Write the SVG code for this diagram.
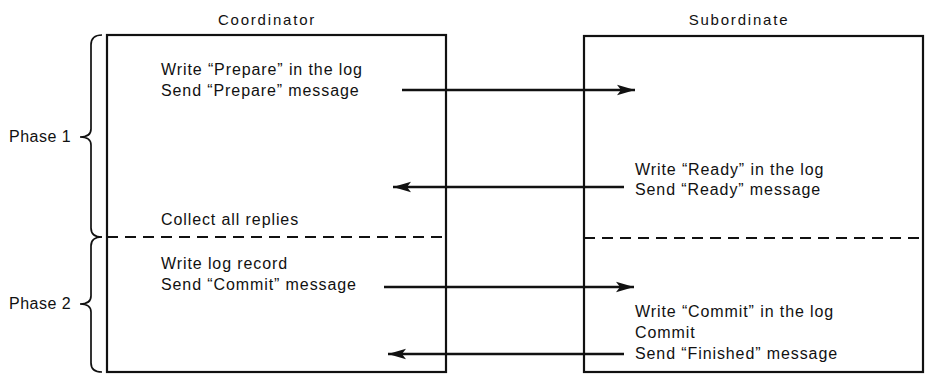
<svg xmlns="http://www.w3.org/2000/svg" width="925" height="374" viewBox="0 0 925 374">
<style>
text{font-family:"Liberation Sans",Arial,sans-serif;font-size:16px;fill:#111;letter-spacing:0.9px}
.hdr{font-size:15px;letter-spacing:1.8px}
.box{fill:none;stroke:#111;stroke-width:2.2}
.dash{fill:none;stroke:#111;stroke-width:1.8;stroke-dasharray:11 7}
.brace{fill:none;stroke:#111;stroke-width:1.7}
.arr{fill:none;stroke:#111;stroke-width:2.3;marker-end:url(#ah)}
</style>
<defs>
<marker id="ah" markerWidth="20" markerHeight="12" refX="18" refY="6" orient="auto" markerUnits="userSpaceOnUse">
<path d="M0,0.8 L18,6 L0,11.2 L4,6 Z" fill="#111"/>
</marker>
</defs>
<rect width="925" height="374" fill="#fff"/>
<g id="coordinator">
<text class="hdr" x="267" y="25" text-anchor="middle">Coordinator</text>
<rect class="box" x="107" y="35" width="339" height="337"/>
<text x="161" y="75">Write “Prepare” in the log</text>
<text x="161" y="96">Send “Prepare” message</text>
<text x="161" y="225">Collect all replies</text>
<text x="161" y="269">Write log record</text>
<text x="161" y="290">Send “Commit” message</text>
</g>
<g id="subordinate">
<text class="hdr" x="739" y="25" text-anchor="middle">Subordinate</text>
<rect class="box" x="584" y="36" width="339" height="336"/>
<text x="635" y="175">Write “Ready” in the log</text>
<text x="635" y="195">Send “Ready” message</text>
<text x="635" y="317">Write “Commit” in the log</text>
<text x="635" y="338">Commit</text>
<text x="635" y="359">Send “Finished” message</text>
</g>
<g id="phase1">
<text x="9" y="142" style="letter-spacing:0.5px">Phase 1</text>
<path class="brace" d="M102,35 Q91,35 91,45 L91,129 Q91,137 80,137 Q91,137 91,145 L91,228 Q91,237 102,237"/>
</g>
<g id="phase2">
<text x="9" y="309" style="letter-spacing:0.5px">Phase 2</text>
<path class="brace" d="M102,237 Q91,237 91,246 L91,296 Q91,304 80,304 Q91,304 91,312 L91,363 Q91,372 102,372"/>
</g>
<g id="connectors">
<line class="dash" x1="107" y1="237" x2="446" y2="237"/>
<line class="dash" x1="584" y1="238" x2="923" y2="238"/>
<line class="arr" x1="402" y1="90" x2="635" y2="90"/>
<line class="arr" x1="624" y1="187" x2="393" y2="187"/>
<line class="arr" x1="384" y1="287" x2="634" y2="287"/>
<line class="arr" x1="624" y1="354" x2="388" y2="354"/>
</g>
</svg>
